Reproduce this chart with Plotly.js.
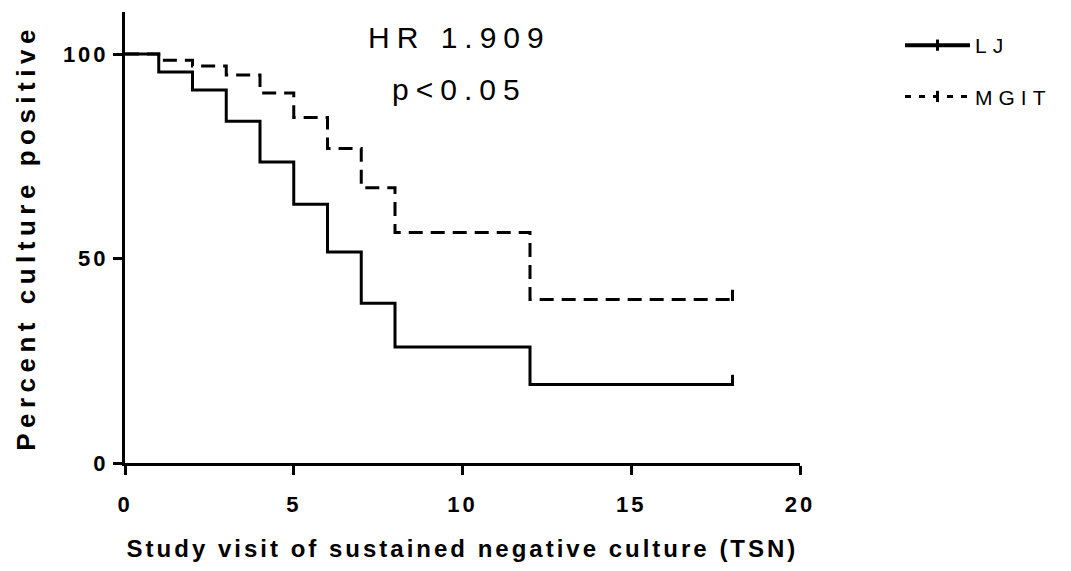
<!DOCTYPE html>
<html>
<head>
<meta charset="utf-8">
<script src="https://cdn.plot.ly/plotly-3.0.1.min.js"></script>
<style>
body { margin:0; background:#fff; }
#chart { width:1071px; height:571px; }
.xtick text, .ytick text { letter-spacing: 3px; }
text.xtitle { letter-spacing: 3px; }
text.ytitle { letter-spacing: 5.5px; }
text.annotation-text { letter-spacing: 7px; }
text.legendtext { letter-spacing: 6px; }
</style>
</head>
<body>
<div id="chart"></div>
<script>
// Step times (study visit) and survival (% culture positive)
const ljVisits   = [0, 1, 2, 3, 4, 5, 6, 7, 8, 12, 18];
const ljPercent  = [100, 95.6, 91.2, 83.6, 73.6, 63.3, 51.6, 39.1, 28.4, 19.2, 19.2];
const mgitVisits  = [0, 1, 2, 3, 4, 5, 6, 7, 8, 12, 18];
const mgitPercent = [100, 98.5, 97.1, 94.9, 90.5, 84.5, 76.9, 67.3, 56.4, 40.0, 40.0];
const censorVisit = 18;
const seriesNames = ['LJ', 'MGIT'];
const xTicks = [0, 5, 10, 15, 20];
const yTicks = [0, 50, 100];
const annotationTexts = ['HR 1.909', 'p<0.05'];

const FONT = 'Liberation Sans, Arial, sans-serif';
const dashStyle = '14px,8px';
const censorLift = 1.0; // tick centred just above the last step so it points up

const traces = [
  {x: ljVisits, y: ljPercent, name: seriesNames[0], mode: 'lines', showlegend: false,
   line: {shape: 'hv', color: '#000', width: 3}},
  {x: mgitVisits, y: mgitPercent, name: seriesNames[1], mode: 'lines', showlegend: false,
   line: {shape: 'hv', color: '#000', width: 3, dash: dashStyle}},
  {x: [censorVisit], y: [ljPercent[ljPercent.length-1] + censorLift], name: seriesNames[0],
   legendgroup: 'a', mode: 'lines+markers',
   line: {color: '#000', width: 4},
   marker: {symbol: 'line-ns-open', size: 8, line: {color: '#000', width: 3}}},
  {x: [censorVisit], y: [mgitPercent[mgitPercent.length-1] + censorLift], name: seriesNames[1],
   legendgroup: 'b', mode: 'lines+markers',
   line: {color: '#000', width: 3, dash: '6px,8px'},
   marker: {symbol: 'line-ns-open', size: 8, line: {color: '#000', width: 3}}}
];

const plotW = 1071 - 125 - 271;
const plotH = 571 - 12 - 108;
const px2x = px => (px - 125) / plotW;
const px2y = px => (463 - px) / plotH;

const layout = {
  width: 1071, height: 571,
  margin: {l: 125, r: 271, t: 12, b: 108},
  paper_bgcolor: '#fff', plot_bgcolor: '#fff',
  font: {family: FONT, color: '#000'},
  showlegend: true,
  legend: {x: px2x(900), y: px2y(25), xanchor: 'left', yanchor: 'top',
           font: {size: 21, family: FONT},
           traceorder: 'grouped', tracegroupgap: 21, itemwidth: 65,
           bgcolor: 'rgba(0,0,0,0)'},
  xaxis: {range: [0, 20], tickmode: 'array', tickvals: xTicks, ticktext: xTicks.map(String),
          showgrid: false, zeroline: false, showline: true, linewidth: 3, linecolor: '#000',
          ticks: 'outside', ticklen: 9, tickwidth: 3, tickcolor: '#000',
          ticklabelstandoff: 11,
          tickfont: {size: 22, family: 'Liberation Sans', color: '#000', weight: 700},
          title: {text: 'Study visit of sustained negative culture (TSN)',
                  font: {size: 24, family: FONT, weight: 'bold'}, standoff: 24}},
  yaxis: {range: [0, 110.3], tickmode: 'array', tickvals: yTicks, ticktext: yTicks.map(String),
          showgrid: false, zeroline: false, showline: true, linewidth: 3, linecolor: '#000',
          ticks: 'outside', ticklen: 9, tickwidth: 3, tickcolor: '#000',
          tickfont: {size: 22, family: 'Liberation Sans', color: '#000', weight: 700},
          title: {text: 'Percent culture positive',
                  font: {size: 26, family: FONT, weight: 'bold'}, standoff: 20}},
  annotations: [
    {x: px2x(459), y: px2y(38), xref: 'paper', yref: 'paper', xanchor: 'center', yanchor: 'middle',
     text: annotationTexts[0], showarrow: false, font: {size: 30, family: FONT}},
    {x: px2x(459), y: px2y(89), xref: 'paper', yref: 'paper', xanchor: 'center', yanchor: 'middle',
     text: annotationTexts[1], showarrow: false, font: {size: 30, family: FONT}}
  ]
};

Plotly.newPlot('chart', traces, layout, {displayModeBar: false, staticPlot: true});
</script>
</body>
</html>
